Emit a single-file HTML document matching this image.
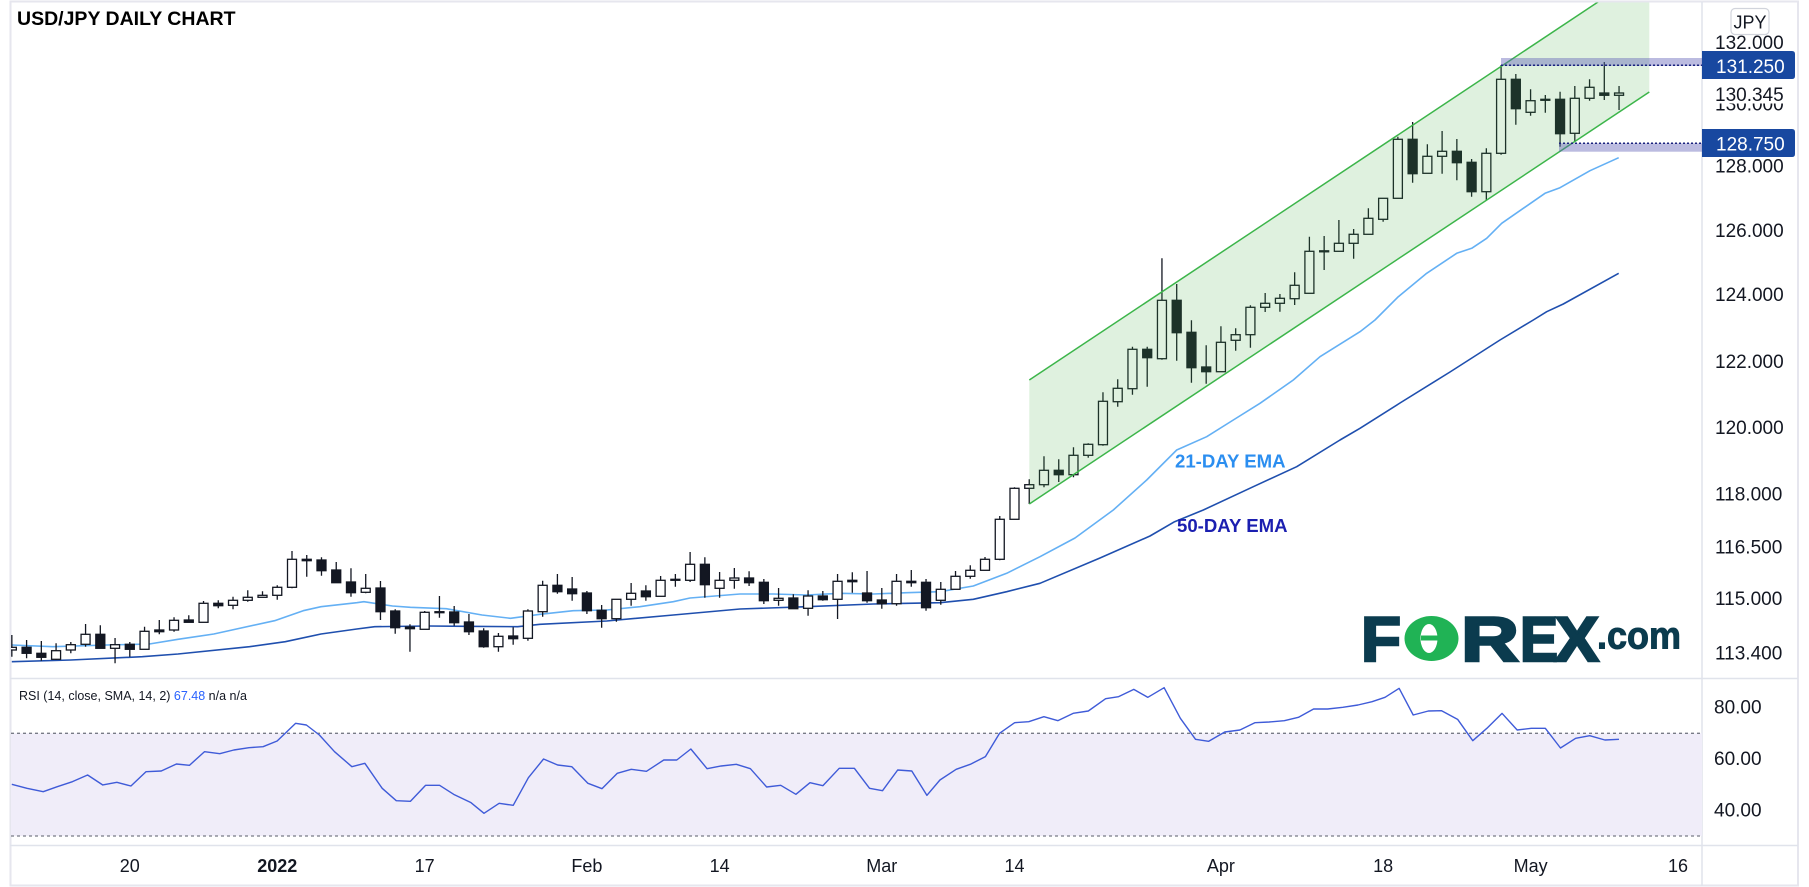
<!DOCTYPE html>
<html><head><meta charset="utf-8"><style>
html,body{margin:0;padding:0;background:#fff;}
svg{display:block;}
text{font-family:"Liberation Sans",Arial,sans-serif;}
.ax{font-size:19px;fill:#131722;}
.tx{font-size:18px;fill:#131722;text-anchor:middle;}
.w{fill:#fff;stroke:#131722;stroke-width:1.3;}
.b{fill:#131722;stroke:#131722;stroke-width:1.3;}
</style></head><body>
<svg width="1809" height="887" viewBox="0 0 1809 887" xmlns="http://www.w3.org/2000/svg">
<defs>
<clipPath id="mp"><rect x="11" y="2.5" width="1691" height="675.5"/></clipPath>
<clipPath id="rp"><rect x="11" y="679" width="1691" height="167"/></clipPath>
</defs>
<rect width="1809" height="887" fill="#fff"/>
<!-- frame -->
<rect x="10.5" y="1.5" width="1787.5" height="884" fill="none" stroke="#e6e6ee" stroke-width="2"/>
<line x1="1702" y1="2" x2="1702" y2="886" stroke="#e0e3eb" stroke-width="1.5"/>
<line x1="10" y1="678.5" x2="1798" y2="678.5" stroke="#e0e3eb" stroke-width="1.5"/>
<line x1="10" y1="845.5" x2="1798" y2="845.5" stroke="#e0e3eb" stroke-width="1.5"/>

<!-- RSI pane -->
<g clip-path="url(#rp)">
<rect x="11" y="733.3" width="1691" height="102.7" fill="#f0edf9"/>
<line x1="11" y1="733.3" x2="1702" y2="733.3" stroke="#787b86" stroke-width="1.3" stroke-dasharray="3 3"/>
<line x1="11" y1="836" x2="1702" y2="836" stroke="#787b86" stroke-width="1.3" stroke-dasharray="3 3"/>
<g transform="matrix(1.083 0 0 0.33333 3.14 680)">
<polyline fill="none" stroke="#3f5bd8" stroke-width="1.4" vector-effect="non-scaling-stroke" stroke-linejoin="round" points="8,313 22,325 37,335 50,320 64,305 78,285 92,315 105,307 118,318 132,275 146,273 160,252 172,256 186,215 200,221 213,210 227,203 240,200 253,183 270,130 280,135 292,165 306,215 322,260 334,250 350,325 363,362 376,364 390,316 403,316 416,343 432,368 444,400 458,370 471,376 485,293 499,237 512,255 525,260 540,310 553,326 567,280 580,268 594,274 610,240 622,240 635,207 650,266 663,258 677,253 690,266 705,321 718,316 732,343 745,308 757,317 772,265 786,265 800,325 812,332 826,270 839,273 853,346 865,300 880,268 893,253 907,230 920,160 934,128 947,125 961,110 974,122 988,100 1002,93 1018,56 1030,50 1044,28 1057,52 1072,23 1087,115 1101,178 1113,184 1128,156 1142,150 1156,128 1169,126 1183,122 1196,112 1210,87 1223,87 1237,82 1251,75 1264,65 1276,52 1289,25 1302,105 1316,93 1328,92 1343,118 1357,182 1370,145 1384,100 1398,150 1411,145 1424,145 1438,204 1452,175 1465,167 1479,180 1492,178"/>
</g>
</g>
<text x="19" y="700" font-size="12.5" fill="#131722">RSI (14, close, SMA, 14, 2) <tspan fill="#2962ff">67.48</tspan> n/a n/a</text>

<!-- Main pane -->
<g clip-path="url(#mp)">
<!-- EMAs -->
<polyline fill="none" stroke="#1f4fae" stroke-width="1.6" stroke-linejoin="round" points="11.8,661.7 70.8,660 142.3,656.7 178,654 249.5,646.7 285.3,641.7 321,634 356.8,629 374.7,626.7 428.3,626 464.1,626.3 517.7,626.7 540,624.3 606.7,621 673.3,615 740,609 806.7,606.7 873.3,604 940,602.7 973.3,599.3 1006.7,591.7 1040,583.3 1100,558 1150,536 1174.6,521.7 1203.3,510 1253.3,486.7 1296.7,466.7 1340,440 1360,428.3 1400,403 1450,372 1500,340 1533.3,320 1546.7,311.7 1563.3,304 1618.7,273.3"/>
<polyline fill="none" stroke="#64b0f4" stroke-width="1.6" stroke-linejoin="round" points="11.8,645 52.9,646.7 106.5,645 149.4,644 178,639.3 213.8,634 274.6,620.7 303.2,610.7 321,606.7 356.8,602.7 363.9,601.7 392.5,606 410.4,607.3 446.2,608.7 482,615 510.5,618.3 540,614.3 573.3,610.7 606.7,610 640,606.7 673.3,601.7 690,598 740,594 773.3,594 806.7,595 840,593.3 873.3,594 906.7,592.7 940,591.7 973.3,586 1006.7,573.3 1040,556.7 1075,538 1113.3,510 1146.7,480 1176.7,450 1206.7,436.7 1233.3,420 1260,403.3 1293.3,380 1320,356.7 1360,331.7 1375,320 1398.3,296.7 1426.7,273.3 1456.7,253.3 1471.7,248.3 1486.7,238.3 1501.7,223.3 1545,193.3 1560,187.7 1590,170.7 1618.7,157.7"/>

<!-- wicks -->
<path fill="none" stroke="#131722" stroke-width="1.3" d="M11.84 635V656.7M26.59 640V658.3M41.33 641V660.7M56.08 643.3V660M70.82 642V653.3M85.57 624V646.7M100.31 625.3V648.3M115.06 638V663.3M129.8 642V656.7M144.55 626.7V649.3M159.29 620V634.3M174.04 617.3V631.7M188.78 615.3V622.3M203.53 601V622.3M218.27 600.3V608.3M233.02 596.7V609.3M247.76 590.3V601.7M262.51 591.3V597.3M277.25 585.3V599.7M292 551V588.3M306.74 555V576.7M321.49 557.3V575.7M336.23 562V582.7M350.98 568.3V596.7M365.72 574V593.3M380.47 581V620M395.21 609.3V633.7M409.96 624.3V651.7M424.7 611V629.3M439.45 596V617.7M454.19 606V625.7M468.94 614V635M483.68 628.3V647.7M498.43 633V651.7M513.17 627.3V644.7M527.92 609.3V640.7M542.66 580.7V616.7M557.41 574V593.7M572.15 577V600.7M586.9 591V614M601.64 605V627.7M616.39 599.3V621.7M631.13 583V605.7M645.88 585.3V600.7M660.62 576V596.3M675.37 574V586.7M690.11 552V582M704.86 557.3V597.7M719.6 572V597.7M734.35 568V588.7M749.09 571.3V586M763.84 579V604M778.58 588V605.7M793.33 594.3V608.7M808.07 590.3V615.7M822.82 591V600.7M837.56 574V619M852.31 572.3V592.7M867.05 571V602.7M881.8 588V608.7M896.54 574V605.7M911.29 570V586.7M926.03 579V610.7M940.78 582V604.7M955.52 571V589.3M970.27 565.3V578.7M985.01 557V570.3M999.76 516V560.3M1014.5 487.3V519.3M1029.25 479.3V504M1043.99 456.3V487.3M1058.74 459.3V482M1073.48 447.3V477.3M1088.23 443.3V457.7M1102.97 392.3V445.7M1117.72 379.3V406.7M1132.46 346.7V394.7M1147.21 346.7V386.7M1161.95 258.3V359.7M1176.7 284V360.7M1191.44 320.3V382.7M1206.19 345.3V383.7M1220.93 326.3V371.7M1235.68 328.3V350.7M1250.42 305.3V347.7M1265.17 293V312M1279.91 294V311.7M1294.66 272.3V305M1309.4 236.7V293.3M1324.15 236V270M1338.89 220V251.3M1353.64 229V258.7M1368.38 208.3V234.3M1383.13 198.3V221.7M1397.87 136.7V198.3M1412.62 122V182.7M1427.36 144.3V173.3M1442.11 131V173.7M1456.85 139V180.3M1471.6 159V196.7M1486.34 148.3V200M1501.09 65V154.7M1515.83 74V124.7M1530.58 89.3V115.7M1545.32 95V112.7M1560.07 91.7V146.7M1574.81 86V141.7M1589.56 79.3V100.7M1604.3 62V100M1619.05 86V110"/>

<!-- bodies -->
<rect class="w" x="7.34" y="647.3" width="9" height="2.7"/>
<rect class="b" x="22.09" y="647.3" width="9" height="6"/>
<rect class="b" x="36.83" y="653.3" width="9" height="4"/>
<rect class="w" x="51.58" y="650.7" width="9" height="8.6"/>
<rect class="w" x="66.32" y="644.7" width="9" height="5.3"/>
<rect class="w" x="81.07" y="634.3" width="9" height="10"/>
<rect class="b" x="95.81" y="634.3" width="9" height="14"/>
<rect class="w" x="110.56" y="644.7" width="9" height="3.6"/>
<rect class="b" x="125.3" y="644.3" width="9" height="5"/>
<rect class="w" x="140.05" y="631.3" width="9" height="18"/>
<rect class="b" x="154.79" y="630" width="9" height="1.7"/>
<rect class="w" x="169.54" y="620.3" width="9" height="9.7"/>
<rect class="b" x="184.28" y="620" width="9" height="2.3"/>
<rect class="w" x="199.03" y="603.3" width="9" height="19"/>
<rect class="b" x="213.77" y="603.3" width="9" height="2.4"/>
<rect class="w" x="228.52" y="600.3" width="9" height="5"/>
<rect class="w" x="243.26" y="597.3" width="9" height="3"/>
<rect class="w" x="258.01" y="595.3" width="9" height="2"/>
<rect class="w" x="272.75" y="587.3" width="9" height="8"/>
<rect class="w" x="287.5" y="559.3" width="9" height="28"/>
<rect class="b" x="302.24" y="559.3" width="9" height="1.4"/>
<rect class="b" x="316.99" y="560" width="9" height="10.7"/>
<rect class="b" x="331.73" y="570" width="9" height="12.7"/>
<rect class="b" x="346.48" y="582" width="9" height="10.7"/>
<rect class="w" x="361.22" y="588.3" width="9" height="4"/>
<rect class="b" x="375.97" y="588" width="9" height="23.7"/>
<rect class="b" x="390.71" y="611" width="9" height="16.7"/>
<rect class="b" x="405.46" y="627" width="9" height="1.7"/>
<rect class="w" x="420.2" y="612.3" width="9" height="17"/>
<rect class="b" x="434.95" y="611.7" width="9" height="1"/>
<rect class="b" x="449.69" y="612" width="9" height="10.7"/>
<rect class="b" x="464.44" y="622" width="9" height="9.7"/>
<rect class="b" x="479.18" y="631" width="9" height="15.7"/>
<rect class="w" x="493.93" y="636.3" width="9" height="10.4"/>
<rect class="b" x="508.67" y="636" width="9" height="2.7"/>
<rect class="w" x="523.42" y="611" width="9" height="27.3"/>
<rect class="w" x="538.16" y="585.3" width="9" height="26.4"/>
<rect class="b" x="552.91" y="585.3" width="9" height="6.4"/>
<rect class="b" x="567.65" y="589" width="9" height="4.7"/>
<rect class="b" x="582.4" y="593" width="9" height="17.7"/>
<rect class="b" x="597.14" y="610.3" width="9" height="8.4"/>
<rect class="w" x="611.89" y="599.3" width="9" height="19.4"/>
<rect class="w" x="626.63" y="593.3" width="9" height="6"/>
<rect class="b" x="641.38" y="591" width="9" height="5.7"/>
<rect class="w" x="656.12" y="580.3" width="9" height="16"/>
<rect class="w" x="670.87" y="579.3" width="9" height="1"/>
<rect class="w" x="685.61" y="564.3" width="9" height="16"/>
<rect class="b" x="700.36" y="564.3" width="9" height="20.4"/>
<rect class="w" x="715.1" y="580.3" width="9" height="8"/>
<rect class="w" x="729.85" y="578" width="9" height="2.3"/>
<rect class="b" x="744.59" y="578" width="9" height="4.7"/>
<rect class="b" x="759.34" y="582.3" width="9" height="18.4"/>
<rect class="w" x="774.08" y="598.3" width="9" height="2"/>
<rect class="b" x="788.83" y="598" width="9" height="10.7"/>
<rect class="w" x="803.57" y="596" width="9" height="12.3"/>
<rect class="b" x="818.32" y="596" width="9" height="3.7"/>
<rect class="w" x="833.06" y="581.3" width="9" height="18"/>
<rect class="b" x="847.81" y="580.3" width="9" height="1.4"/>
<rect class="b" x="862.55" y="593" width="9" height="7.7"/>
<rect class="b" x="877.3" y="600" width="9" height="3.7"/>
<rect class="w" x="892.04" y="581.3" width="9" height="22.4"/>
<rect class="b" x="906.79" y="581.3" width="9" height="1.4"/>
<rect class="b" x="921.53" y="582.3" width="9" height="25.4"/>
<rect class="w" x="936.28" y="589.3" width="9" height="11"/>
<rect class="w" x="951.02" y="576.3" width="9" height="13"/>
<rect class="w" x="965.77" y="570.3" width="9" height="6"/>
<rect class="w" x="980.51" y="559.3" width="9" height="11"/>
<rect class="w" x="995.26" y="519.3" width="9" height="40"/>
<rect class="w" x="1010" y="488.3" width="9" height="31"/>
<rect class="w" x="1024.75" y="484.7" width="9" height="3.6"/>
<rect class="w" x="1039.49" y="470.3" width="9" height="14.4"/>
<rect class="b" x="1054.24" y="470.3" width="9" height="4.4"/>
<rect class="w" x="1068.98" y="455.3" width="9" height="19.4"/>
<rect class="w" x="1083.73" y="444.3" width="9" height="11"/>
<rect class="w" x="1098.47" y="401.3" width="9" height="43.4"/>
<rect class="w" x="1113.22" y="388.3" width="9" height="13.4"/>
<rect class="w" x="1127.96" y="349.3" width="9" height="39.4"/>
<rect class="b" x="1142.71" y="349.3" width="9" height="8.4"/>
<rect class="w" x="1157.45" y="300.3" width="9" height="58.4"/>
<rect class="b" x="1172.2" y="300.3" width="9" height="32.4"/>
<rect class="b" x="1186.94" y="332.3" width="9" height="35.4"/>
<rect class="b" x="1201.69" y="367" width="9" height="4.7"/>
<rect class="w" x="1216.43" y="342.3" width="9" height="29.4"/>
<rect class="w" x="1231.18" y="334.7" width="9" height="5.6"/>
<rect class="w" x="1245.92" y="307.3" width="9" height="27.4"/>
<rect class="w" x="1260.67" y="303.3" width="9" height="4"/>
<rect class="w" x="1275.41" y="298.3" width="9" height="5"/>
<rect class="w" x="1290.16" y="285.3" width="9" height="13.4"/>
<rect class="w" x="1304.9" y="251.3" width="9" height="42"/>
<rect class="w" x="1319.65" y="250.8" width="9" height="1"/>
<rect class="w" x="1334.39" y="243.3" width="9" height="8"/>
<rect class="w" x="1349.14" y="234.3" width="9" height="9"/>
<rect class="w" x="1363.88" y="218.3" width="9" height="16"/>
<rect class="w" x="1378.63" y="198.3" width="9" height="21"/>
<rect class="w" x="1393.37" y="139.3" width="9" height="59"/>
<rect class="b" x="1408.12" y="139.3" width="9" height="34.4"/>
<rect class="w" x="1422.86" y="156.3" width="9" height="17"/>
<rect class="w" x="1437.61" y="151.3" width="9" height="5"/>
<rect class="b" x="1452.35" y="151.3" width="9" height="11.4"/>
<rect class="b" x="1467.1" y="162.3" width="9" height="29.4"/>
<rect class="w" x="1481.84" y="153.3" width="9" height="38.4"/>
<rect class="w" x="1496.59" y="79.3" width="9" height="74"/>
<rect class="b" x="1511.33" y="79.3" width="9" height="29.4"/>
<rect class="w" x="1526.08" y="100.7" width="9" height="11.6"/>
<rect class="b" x="1540.82" y="99.3" width="9" height="1"/>
<rect class="b" x="1555.57" y="99.3" width="9" height="34.4"/>
<rect class="w" x="1570.31" y="98.3" width="9" height="35"/>
<rect class="w" x="1585.06" y="87.3" width="9" height="11"/>
<rect class="b" x="1599.8" y="93" width="9" height="2.3"/>
<rect class="w" x="1614.55" y="93" width="9" height="2.3"/>

<!-- channel -->
<polygon points="1029.3,380 1598.1,2 1649.3,2 1649.3,92 1029.3,504" fill="rgb(76,175,80)" fill-opacity="0.18"/>
<line x1="1029.3" y1="380" x2="1601" y2="0" stroke="#3cb54a" stroke-width="1.5"/>
<line x1="1029.3" y1="504" x2="1649.3" y2="92" stroke="#3cb54a" stroke-width="1.5"/>

<!-- bands -->
<rect x="1501" y="58" width="201" height="8" fill="rgb(92,92,180)" fill-opacity="0.42"/>
<line x1="1501" y1="65.3" x2="1702" y2="65.3" stroke="#1a237e" stroke-width="1.5" stroke-dasharray="2 2"/>
<rect x="1559" y="143.3" width="143" height="8.4" fill="rgb(92,92,180)" fill-opacity="0.42"/>
<line x1="1559" y1="143.3" x2="1702" y2="143.3" stroke="#1a237e" stroke-width="1.5" stroke-dasharray="2 2"/>

<!-- EMA labels -->
<text x="1175" y="467.5" font-size="18.6" font-weight="bold" fill="#2b8ef0">21-DAY EMA</text>
<text x="1177" y="532" font-size="18.6" font-weight="bold" fill="#1b1fb0">50-DAY EMA</text>

<!-- logo -->
<g>
<text x="1361" y="661" font-size="63" font-weight="bold" fill="#0b3b4e" stroke="#0b3b4e" stroke-width="2.5" textLength="40" lengthAdjust="spacingAndGlyphs">F</text>
<ellipse cx="1431.5" cy="638.5" rx="27" ry="22.5" fill="#20b355"/>
<ellipse cx="1429" cy="638.5" rx="8.5" ry="14.5" fill="#fff"/>
<rect x="1421" y="635.5" width="31" height="5" fill="#20b355"/>
<text x="1461" y="661" font-size="63" font-weight="bold" fill="#0b3b4e" stroke="#0b3b4e" stroke-width="2.5" textLength="58" lengthAdjust="spacingAndGlyphs">R</text>
<text x="1520" y="661" font-size="63" font-weight="bold" fill="#0b3b4e" stroke="#0b3b4e" stroke-width="2.5" textLength="38" lengthAdjust="spacingAndGlyphs">E</text>
<text x="1555" y="661" font-size="63" font-weight="bold" fill="#0b3b4e" stroke="#0b3b4e" stroke-width="2.5" textLength="44" lengthAdjust="spacingAndGlyphs">X</text>
<text x="1597" y="648.5" font-size="38" font-weight="bold" fill="#0b3b4e" stroke="#0b3b4e" stroke-width="1" textLength="84" lengthAdjust="spacingAndGlyphs">.com</text>
</g>
</g>

<!-- title -->
<text x="17" y="25" font-size="19.5" font-weight="bold" fill="#000">USD/JPY DAILY CHART</text>

<!-- price axis -->
<rect x="1731" y="8.5" width="38" height="26" rx="4" fill="#fff" stroke="#d1d4dc" stroke-width="1.2"/>
<text x="1750" y="28.5" font-size="18" fill="#131722" text-anchor="middle">JPY</text>
<text class="ax" x="1715" y="49">132.000</text>
<text class="ax" x="1715" y="110.5">130.000</text>
<rect x="1703" y="82" width="94" height="21.5" fill="#fff"/>
<text class="ax" x="1715" y="101">130.345</text>
<path d="M1702 51H1792Q1795 51 1795 54V76Q1795 79 1792 79H1702Z" fill="#1848a0"/>
<text x="1716" y="73" font-size="19" fill="#fff">131.250</text>
<path d="M1702 129H1792Q1795 129 1795 132V154Q1795 157 1792 157H1702Z" fill="#1848a0"/>
<text x="1716" y="150.7" font-size="19" fill="#fff">128.750</text>
<text class="ax" x="1715" y="172.7">128.000</text>
<text class="ax" x="1715" y="237">126.000</text>
<text class="ax" x="1715" y="301">124.000</text>
<text class="ax" x="1715" y="368">122.000</text>
<text class="ax" x="1715" y="434">120.000</text>
<text class="ax" x="1715" y="500.7">118.000</text>
<text class="ax" x="1715" y="553.3">116.500</text>
<text class="ax" x="1715" y="605">115.000</text>
<text class="ax" x="1715" y="659.3">113.400</text>

<!-- RSI axis -->
<text class="ax" x="1714" y="713.3">80.00</text>
<text class="ax" x="1714" y="765">60.00</text>
<text class="ax" x="1714" y="816.7">40.00</text>

<!-- time axis -->
<text class="tx" x="129.8" y="872">20</text>
<text class="tx" x="277.3" y="872" font-weight="bold">2022</text>
<text class="tx" x="424.7" y="872">17</text>
<text class="tx" x="586.9" y="872">Feb</text>
<text class="tx" x="719.6" y="872">14</text>
<text class="tx" x="881.8" y="872">Mar</text>
<text class="tx" x="1014.5" y="872">14</text>
<text class="tx" x="1220.9" y="872">Apr</text>
<text class="tx" x="1383.1" y="872">18</text>
<text class="tx" x="1530.6" y="872">May</text>
<text class="tx" x="1678" y="872">16</text>
</svg>
</body></html>
